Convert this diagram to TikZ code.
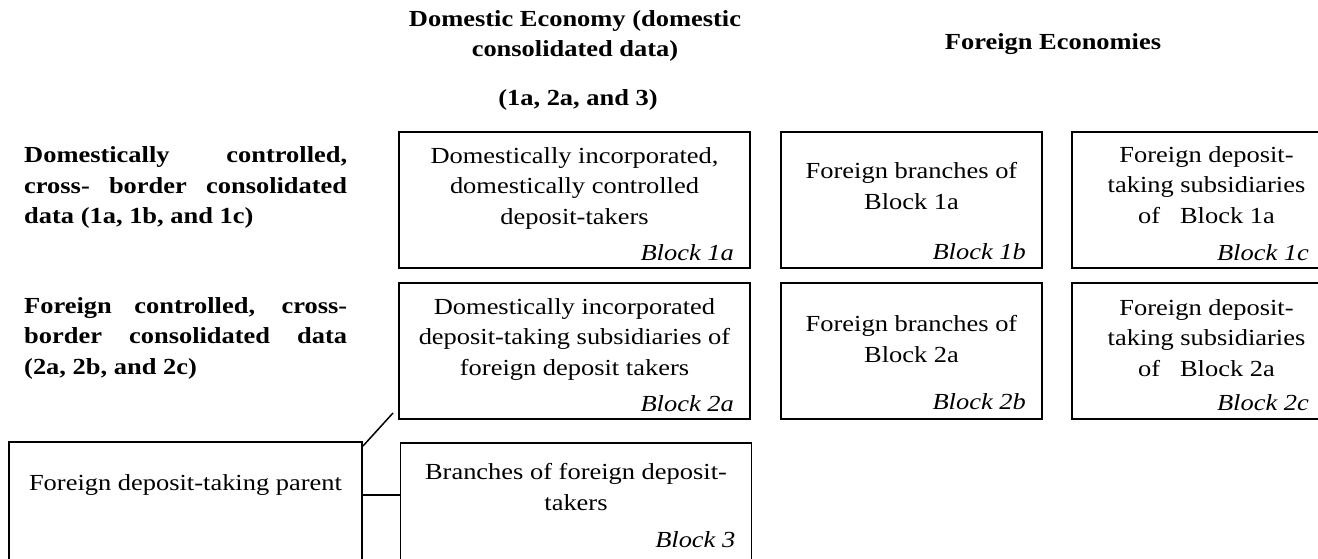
\documentclass[tikz,border=0pt]{standalone}
\usepackage{fontspec}
\setmainfont[FakeStretch=1.15]{Liberation Serif}
\usepackage{tikz}
\usetikzlibrary{positioning}
\newcommand{\boxfont}{\fontsize{23}{30.5}\selectfont}
\tikzstyle{block} = [rectangle, draw=black, line width=1.5pt, outer sep=0pt, minimum width=351pt, minimum height=136pt]
\tikzstyle{fblock} = [block, minimum width=261pt]
\tikzstyle{blocktext} = [align=center, font=\boxfont, inner sep=0pt, anchor=base]
\tikzstyle{tag} = [font=\boxfont\itshape, inner sep=0pt, anchor=base east]
\tikzstyle{head} = [align=center, font=\boxfont\bfseries, inner sep=0pt, anchor=base]
\tikzstyle{rowlabel} = [text width=323pt, align=justify, font=\boxfont\bfseries, inner sep=0pt, anchor=base west]
\tikzstyle{link} = [line width=1.5pt]

\begin{document}
\begin{tikzpicture}[x=1pt, y=-1pt]
   \clip (0,0) rectangle (1318,559);
   % column and row headings (base = last line)
   \node (hdom) [head] at (575,57) {Domestic Economy (domestic\\ consolidated data)};
   \node (hdomsub) [head] at (578,106) {(1a, 2a, and 3)};
   \node (hfor) [head] at (1053,50) {Foreign Economies};
   \node (row1) [rowlabel] at (24,163) {Domestically controlled, cross- border consolidated data (1a, 1b, and 1c)};
   \node (row2) [rowlabel] at (24,313) {Foreign controlled, cross- border consolidated data (2a, 2b, and 2c)};
   % blocks
   \node (b1a) [block] at (574.5,200) {};
   \node (b2a) [block, below=15pt of b1a] {};
   \node (b1b) [fblock, right=31pt of b1a] {};
   \node (b1c) [fblock, right=30pt of b1b] {};
   \node (b2b) [fblock, right=31pt of b2a] {};
   \node (b2c) [fblock, right=30pt of b2b] {};
   \node (b3) [block] at (576,511) {};
   \node (parent) [block, minimum width=353pt] at (185.5,510) {};
   % block texts
   \node (t1a) [blocktext] at ([yshift=-92pt]b1a.north) {Domestically incorporated,\\ domestically controlled\\ deposit-takers};
   \node (t2a) [blocktext] at ([yshift=-92pt]b2a.north) {Domestically incorporated\\ deposit-taking subsidiaries of\\ foreign deposit takers};
   \node (t1b) [blocktext] at ([yshift=-77pt]b1b.north) {Foreign branches of\\ Block 1a};
   \node (t2b) [blocktext] at ([yshift=-79pt]b2b.north) {Foreign branches of\\ Block 2a};
   \node (t1c) [blocktext] at ([shift={(4pt,-91pt)}]b1c.north) {Foreign deposit-\\ taking subsidiaries\\ of \ \ Block 1a};
   \node (t2c) [blocktext] at ([shift={(4pt,-93pt)}]b2c.north) {Foreign deposit-\\ taking subsidiaries\\ of \ \ Block 2a};
   \node (t3) [blocktext] at ([yshift=-67pt]b3.north) {Branches of foreign deposit-\\ takers};
   \node (tparent) [blocktext] at ([yshift=-48pt]parent.north) {Foreign deposit-taking parent};
   % block tags
   \node (g1a) [tag] at ([shift={(-16pt,8pt)}]b1a.south east) {Block 1a};
   \node (g2a) [tag] at ([shift={(-16pt,8pt)}]b2a.south east) {Block 2a};
   \node (g1b) [tag] at ([shift={(-16pt,9pt)}]b1b.south east) {Block 1b};
   \node (g2b) [tag] at ([shift={(-16pt,10pt)}]b2b.south east) {Block 2b};
   \node (g1c) [tag] at ([shift={(-24pt,8pt)}]b1c.south east) {Block 1c};
   \node (g2c) [tag] at ([shift={(-24pt,9pt)}]b2c.south east) {Block 2c};
   \node (g3) [tag] at ([shift={(-16pt,-104pt)}]b3.north east) {Block 3};
   % links to the parent
   \coordinate (pj) at ([yshift=15pt]parent.east);
   \draw [link] (pj) -- (pj -| b3.west);
   \draw [link] ([shift={(1pt,-4pt)}]parent.north east) -- ([shift={(-6pt,6pt)}]b2a.south west);
\end{tikzpicture}
\end{document}
